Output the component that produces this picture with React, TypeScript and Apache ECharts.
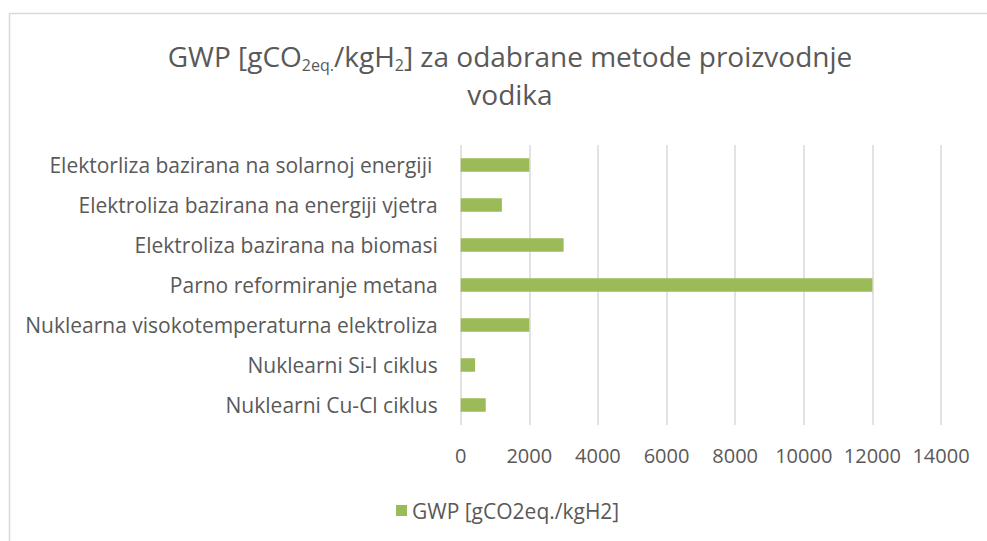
import React, { useEffect, useRef } from "react";
import * as echarts from "echarts";

const categories = [
  "Elektorliza bazirana na solarnoj energiji ",
  "Elektroliza bazirana na energiji vjetra",
  "Elektroliza bazirana na biomasi",
  "Parno reformiranje metana",
  "Nuklearna visokotemperaturna elektroliza",
  "Nuklearni Si-I ciklus",
  "Nuklearni Cu-Cl ciklus",
];
const gwpValues = [2000, 1200, 3000, 12000, 2000, 420, 730];
const seriesName = "GWP [gCO2eq./kgH2]";
const xTicks = { min: 0, max: 14000, interval: 2000 };

const FONT = "'Open Sans', sans-serif";
const TEXT = "#595959";
const GRID = "#d9d9d9";
const GREEN = "#9BBB59";

export default function App() {
  const ref = useRef<HTMLDivElement>(null);
  useEffect(() => {
    if (!ref.current) return;
    const chart = echarts.init(ref.current, null, { renderer: "svg" });
    chart.setOption({
      animation: false,
      backgroundColor: "#ffffff",
      title: {
        text: "{n|GWP [gCO}{s|2eq.}{n|/kgH}{s|2}{n|] za odabrane metode proizvodnje}\n{n|vodika}",
        left: 505,
        top: 32,
        textAlign: "center",
        textStyle: {
          fontWeight: "normal",
          rich: {
            n: { fontFamily: FONT, fontSize: 28, fontWeight: "normal", color: TEXT, lineHeight: 38 },
            s: { fontFamily: FONT, fontSize: 16, fontWeight: "normal", color: TEXT, lineHeight: 16, padding: [18, 0, 0, 0] },
          },
        },
      },
      legend: {
        data: [seriesName],
        left: 391,
        top: 495,
        icon: "rect",
        itemWidth: 11,
        itemHeight: 11,
        textStyle: { fontFamily: FONT, fontSize: 21, color: TEXT },
      },
      grid: { left: 460.7, right: 46, top: 145, bottom: 116, containLabel: false },
      xAxis: {
        type: "value",
        min: xTicks.min,
        max: xTicks.max,
        interval: xTicks.interval,
        axisLine: { show: false },
        axisTick: { show: false },
        splitLine: { show: true, lineStyle: { color: GRID, width: 1.5 } },
        axisLabel: {
          fontFamily: FONT,
          fontSize: 20,
          color: TEXT,
          margin: 20,
          formatter: (v: number) => String(v),
        },
      },
      yAxis: {
        type: "category",
        data: categories,
        inverse: true,
        axisLine: { show: false },
        axisTick: { show: false },
        axisLabel: { fontFamily: FONT, fontSize: 21, color: TEXT, margin: 23 },
      },
      series: [
        {
          name: seriesName,
          type: "bar",
          data: gwpValues,
          barWidth: 13.5,
          itemStyle: { color: GREEN },
        },
      ],
      graphic: [
        { type: "line", shape: { x1: 9, y1: 13.5, x2: 987, y2: 13.5 }, style: { stroke: GRID, lineWidth: 1.5 } },
        { type: "line", shape: { x1: 9.5, y1: 13, x2: 9.5, y2: 541 }, style: { stroke: GRID, lineWidth: 1.5 } },
      ],
    });
    return () => chart.dispose();
  }, []);
  return (
    <div
      ref={ref}
      style={{ position: "fixed", left: 0, top: 0, width: 987, height: 541 }}
    />
  );
}
